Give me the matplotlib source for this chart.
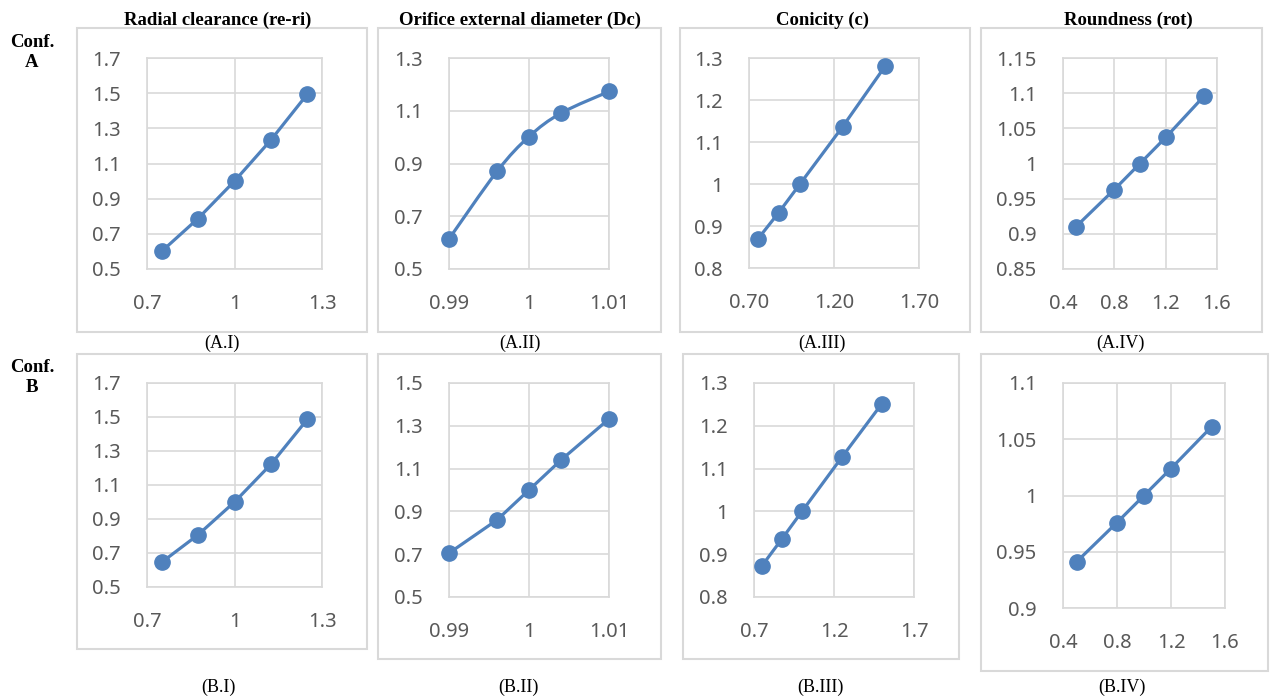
import matplotlib
matplotlib.use("Agg")
import matplotlib.pyplot as plt
from matplotlib.patches import Rectangle
from matplotlib.path import Path
from matplotlib.patches import PathPatch

# --- data ---
x_clear = [0.75, 0.875, 1.0, 1.125, 1.25]
y_clear_a = [0.600, 0.787, 1.0, 1.234, 1.495]
y_clear_b = [0.645, 0.807, 1.0, 1.222, 1.487]

x_diam = [0.99, 0.996, 1.0, 1.004, 1.01]
y_diam_a = [0.614, 0.870, 1.002, 1.091, 1.173]
y_diam_b = [0.705, 0.860, 1.0, 1.140, 1.332]

x_conic = [0.75, 0.875, 1.0, 1.25, 1.5]
y_conic_a = [0.868, 0.932, 1.0, 1.136, 1.280]
y_conic_b = [0.873, 0.936, 1.0, 1.127, 1.252]

x_round = [0.5, 0.8, 1.0, 1.2, 1.5]
y_round_a = [0.910, 0.963, 1.0, 1.037, 1.096]
y_round_b = [0.941, 0.976, 1.0, 1.024, 1.061]

titulos = ["Radial clearance (re-ri)", "Orifice external diameter (Dc)",
           "Conicity (c)", "Roundness (rot)"]
legendas_a = ["(A.I)", "(A.II)", "(A.III)", "(A.IV)"]
legendas_b = ["(B.I)", "(B.II)", "(B.III)", "(B.IV)"]

# ticks and tick labels
xt_clear = [0.7, 1.0, 1.3]
xl_clear = ["0.7", "1", "1.3"]
xt_diam = [0.99, 1.0, 1.01]
xl_diam = ["0.99", "1", "1.01"]
xt_conic = [0.7, 1.2, 1.7]
xl_conic_a = ["0.70", "1.20", "1.70"]
xl_conic_b = ["0.7", "1.2", "1.7"]
xt_round = [0.4, 0.8, 1.2, 1.6]
xl_round = ["0.4", "0.8", "1.2", "1.6"]

yt_clear = [0.5, 0.7, 0.9, 1.1, 1.3, 1.5, 1.7]
yl_clear = ["0.5", "0.7", "0.9", "1.1", "1.3", "1.5", "1.7"]
yt_diam_a = [0.5, 0.7, 0.9, 1.1, 1.3]
yl_diam_a = ["0.5", "0.7", "0.9", "1.1", "1.3"]
yt_diam_b = [0.5, 0.7, 0.9, 1.1, 1.3, 1.5]
yl_diam_b = ["0.5", "0.7", "0.9", "1.1", "1.3", "1.5"]
yt_conic = [0.8, 0.9, 1.0, 1.1, 1.2, 1.3]
yl_conic = ["0.8", "0.9", "1", "1.1", "1.2", "1.3"]
yt_round_a = [0.85, 0.9, 0.95, 1.0, 1.05, 1.1, 1.15]
yl_round_a = ["0.85", "0.9", "0.95", "1", "1.05", "1.1", "1.15"]
yt_round_b = [0.9, 0.95, 1.0, 1.05, 1.1]
yl_round_b = ["0.9", "0.95", "1", "1.05", "1.1"]

W, H = 1270, 698
AZUL = "#4F81BD"
CINZA = "#D9D9D9"
TEXTO = "#595959"


def caixa(l, t, r, b):
    return [l / W, 1 - b / H, (r - l) / W, (b - t) / H]


def linha_suave(ax, xs, ys):
    # Excel-like smoothed line (Catmull-Rom -> Bezier)
    pts = list(zip(xs, ys))
    verts = [pts[0]]
    codes = [Path.MOVETO]
    n = len(pts)
    for i in range(n - 1):
        p0 = pts[i - 1] if i > 0 else pts[i]
        p1 = pts[i]
        p2 = pts[i + 1]
        p3 = pts[i + 2] if i + 2 < n else pts[i + 1]
        c1 = (p1[0] + (p2[0] - p0[0]) / 6, p1[1] + (p2[1] - p0[1]) / 6)
        c2 = (p2[0] - (p3[0] - p1[0]) / 6, p2[1] - (p3[1] - p1[1]) / 6)
        verts += [c1, c2, p2]
        codes += [Path.CURVE4] * 3
    ax.add_patch(PathPatch(Path(verts, codes), fill=False, edgecolor=AZUL,
                           lw=2.3, zorder=3))


paineis = [
    # frame, plot area, x, y, xlim, ylim, xticks, xlabels, yticks, ylabels, smooth
    ((77, 28, 367, 332), (147, 58, 322, 269), x_clear, y_clear_a, (0.7, 1.3), (0.5, 1.7),
     xt_clear, xl_clear, yt_clear, yl_clear, False),
    ((378, 28, 661, 332), (449, 58, 609, 269), x_diam, y_diam_a, (0.99, 1.01), (0.5, 1.3),
     xt_diam, xl_diam, yt_diam_a, yl_diam_a, True),
    ((680, 28, 970, 332), (749, 58, 919, 268), x_conic, y_conic_a, (0.7, 1.7), (0.8, 1.3),
     xt_conic, xl_conic_a, yt_conic, yl_conic, False),
    ((981, 28, 1262, 332), (1063, 58, 1217, 269), x_round, y_round_a, (0.4, 1.6), (0.85, 1.15),
     xt_round, xl_round, yt_round_a, yl_round_a, False),
    ((77, 354, 367, 649), (147, 383, 322, 587), x_clear, y_clear_b, (0.7, 1.3), (0.5, 1.7),
     xt_clear, xl_clear, yt_clear, yl_clear, False),
    ((378, 354, 661, 659), (449, 383, 609, 597), x_diam, y_diam_b, (0.99, 1.01), (0.5, 1.5),
     xt_diam, xl_diam, yt_diam_b, yl_diam_b, False),
    ((683, 354, 959, 659), (754, 383, 914, 597), x_conic, y_conic_b, (0.7, 1.7), (0.8, 1.3),
     xt_conic, xl_conic_b, yt_conic, yl_conic, False),
    ((981, 354, 1268, 671), (1063, 383, 1225, 608), x_round, y_round_b, (0.4, 1.6), (0.9, 1.1),
     xt_round, xl_round, yt_round_b, yl_round_b, False),
]

fig = plt.figure(figsize=(W / 100, H / 100), dpi=100)
fig.patch.set_facecolor("white")

for moldura, area, xs, ys, xlim, ylim, xt, xl, yt, yl, suave in paineis:
    l, t, r, b = moldura
    fig.patches.append(Rectangle((l / W, 1 - b / H), (r - l) / W, (b - t) / H,
                                 transform=fig.transFigure, fill=False,
                                 edgecolor=CINZA, lw=1.5))
    ax = fig.add_axes(caixa(*area))
    ax.set_xlim(*xlim)
    ax.set_ylim(*ylim)
    ax.set_xticks(xt)
    ax.set_xticklabels(xl)
    ax.set_yticks(yt)
    ax.set_yticklabels(yl)
    ax.grid(True, color=CINZA, lw=1.2)
    ax.set_axisbelow(True)
    for s in ax.spines.values():
        s.set_color(CINZA)
        s.set_linewidth(1.2)
    ax.tick_params(length=0, labelsize=14.5, labelcolor=TEXTO)
    ax.tick_params(axis="x", pad=18)
    ax.tick_params(axis="y", pad=19)
    for lab in ax.get_xticklabels() + ax.get_yticklabels():
        lab.set_fontfamily("Noto Sans")
    if suave:
        linha_suave(ax, xs, ys)
        ax.plot(xs, ys, "o", color=AZUL, ms=11, zorder=4, clip_on=False)
    else:
        ax.plot(xs, ys, "-o", color=AZUL, lw=2.3, ms=11, zorder=4, clip_on=False)

serif = "Liberation Serif"
for x, txt in zip([218, 520, 822, 1128], titulos):
    fig.text(x / W, 1 - 25 / H, txt, ha="center", va="baseline", fontsize=13.5,
             fontweight="bold", family=serif)

for x, txt in zip([222, 520, 822, 1120], legendas_a):
    fig.text(x / W, 1 - 348 / H, txt, ha="center", va="baseline", fontsize=13, family=serif)
for x, txt in zip([218, 518, 820, 1122], legendas_b):
    fig.text(x / W, 1 - 692 / H, txt, ha="center", va="baseline", fontsize=13, family=serif)

for yb, letra in [(47, "A"), (372, "B")]:
    fig.text(32 / W, 1 - yb / H, "Conf.", ha="center", va="baseline", fontsize=13.5,
             fontweight="bold", family=serif)
    fig.text(32 / W, 1 - (yb + 20) / H, letra, ha="center", va="baseline", fontsize=13.5,
             fontweight="bold", family=serif)

fig.savefig("out.png", dpi=100)
plt.close(fig)
